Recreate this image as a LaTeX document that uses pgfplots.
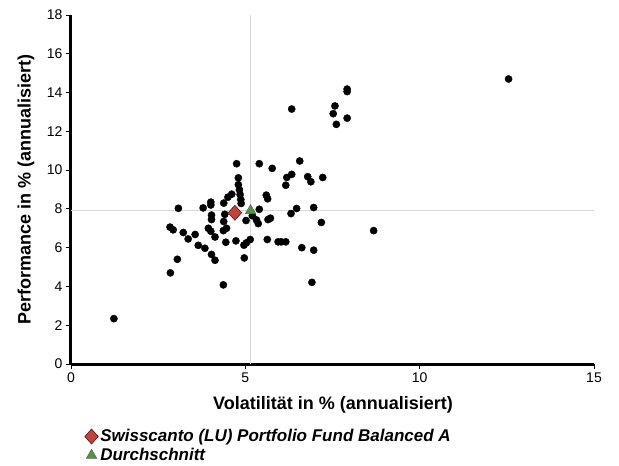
\documentclass[border=0pt]{standalone}
\usepackage{pgfplots}
\pgfplotsset{compat=1.18}
\usepackage{fontspec}
\setmainfont{Liberation Sans}

\definecolor{fundred}{HTML}{C8403A}
\definecolor{avggreen}{HTML}{4A9A3A}
\definecolor{crossgray}{HTML}{D8D8D8}

\pgfplotstableread{
x y
1.23 2.34
2.85 4.70
3.05 5.40
2.84 7.06
2.93 6.92
3.08 8.03
3.22 6.78
3.36 6.45
3.56 6.68
3.65 6.12
3.84 5.97
3.79 8.05
4.01 8.35
4.01 8.20
3.94 7.00
4.01 6.85
4.03 7.68
4.03 7.45
4.03 5.65
4.13 5.35
4.13 6.55
4.37 6.88
4.37 4.08
4.44 6.28
4.38 8.30
4.41 7.72
4.38 7.35
4.46 7.00
4.50 8.60
4.61 8.76
4.75 10.33
4.80 9.60
4.80 9.25
4.83 8.98
4.85 8.74
4.87 8.48
4.88 8.28
4.73 6.35
4.96 6.13
4.97 5.47
5.03 6.25
5.14 6.42
5.02 7.40
5.20 7.65
5.32 7.43
5.37 7.24
5.40 10.33
5.40 7.98
5.60 8.71
5.64 8.52
5.65 7.45
5.72 7.52
5.63 6.42
5.77 10.09
5.94 6.30
6.03 6.30
6.16 6.30
6.16 9.22
6.19 9.62
6.33 9.78
6.31 7.76
6.33 13.15
6.47 8.02
6.56 10.47
6.62 6.00
6.79 9.66
6.88 9.40
6.96 8.07
6.96 5.87
6.91 4.21
7.18 7.30
7.22 9.62
7.52 12.91
7.57 13.31
7.61 12.36
7.92 14.18
7.92 14.05
7.92 12.68
8.68 6.88
12.55 14.70
}\funds

\begin{document}
\begin{tikzpicture}
\path[use as bounding box] (-71pt,-102pt) rectangle (548pt,364pt);
\begin{axis}[
    width=523pt, height=349pt, scale only axis,
    xmin=0, xmax=15, ymin=0, ymax=18,
    xtick={0,5,10,15},
    ytick={0,2,...,18},
    axis lines*=left,
    axis line style={line width=3pt, black},
    tick align=outside,
    major tick length=5pt,
    tick style={black, line width=0.8pt},
    ticklabel style={font=\fontsize{14}{16}\selectfont},
    /pgf/number format/assume math mode=true,
    xlabel={Volatilität in \% (annualisiert)},
    ylabel={Performance in \% (annualisiert)},
    label style={font=\bfseries\fontsize{18}{20}\selectfont},
    xlabel style={at={(axis description cs:0.501,-0.117)}, anchor=center},
    ylabel style={at={(axis description cs:-0.086,0.5)}, anchor=center},
    legend style={at={(axis description cs:0.026,-0.176)}, anchor=north west,
        draw=none, fill=none, inner xsep=0pt, row sep=1pt,
        /tikz/every even column/.append style={column sep=7pt},
        font=\bfseries\itshape\fontsize{17}{20}\selectfont},
    legend cell align=left,
    clip=false,
]
% Durchschnitt-Fadenkreuz
\addplot[crossgray, line width=1pt, forget plot] coordinates {(5.15,0) (5.15,18)};
\addplot[crossgray, line width=1pt, forget plot] coordinates {(0,7.91) (15,7.91)};
% Vergleichsfonds
\addplot[only marks, mark=*, mark size=3.6pt, black, forget plot] table {\funds};
% Fonds und Durchschnitt
\addplot[only marks, mark=diamond*, mark size=7.5pt,
    mark options={xscale=1.2, fill=fundred, draw=black!60!fundred, line width=0.6pt}]
    coordinates {(4.70,7.80)};
\addlegendentry{Swisscanto (LU) Portfolio Fund Balanced A}
\addplot[only marks, mark=triangle*, mark size=6pt,
    mark options={fill=avggreen, draw=black!60, line width=0.6pt}]
    coordinates {(5.15,7.91)};
\addlegendentry{Durchschnitt}
\end{axis}
\end{tikzpicture}
\end{document}
